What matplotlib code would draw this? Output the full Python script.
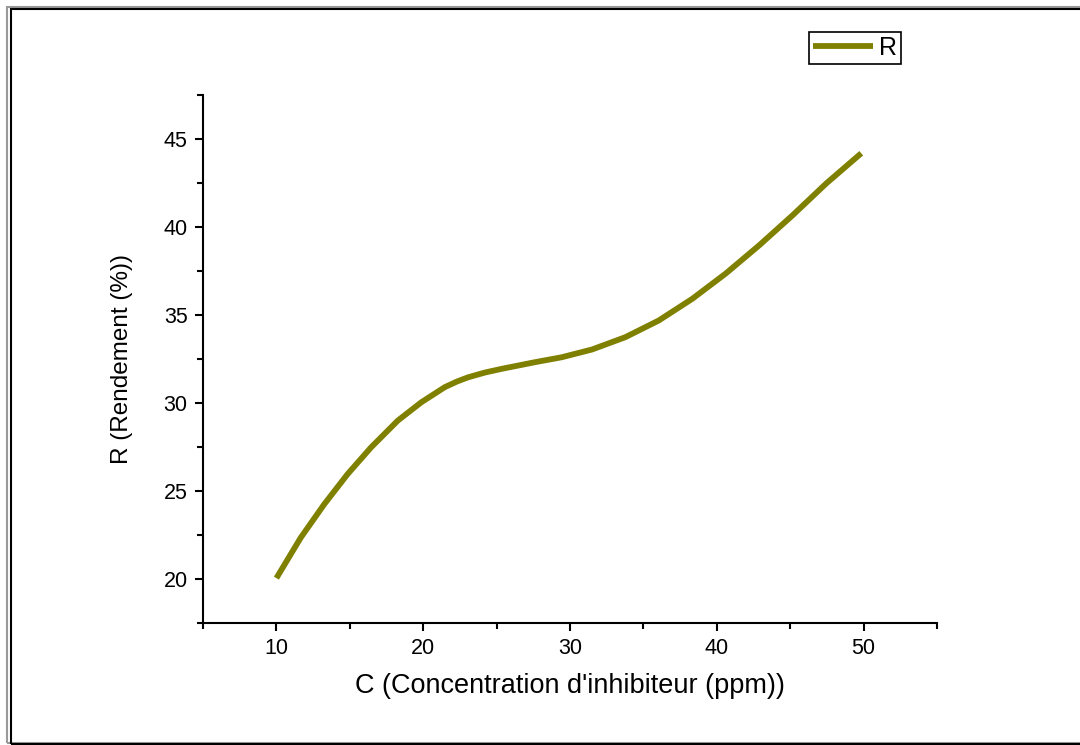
import matplotlib
matplotlib.use("Agg")
import matplotlib.pyplot as plt
from matplotlib.patches import Rectangle
from matplotlib.ticker import MultipleLocator

plt.rcParams['font.family'] = ['Liberation Sans', 'DejaVu Sans']

# values
conc = [10.0, 11.66, 13.26, 14.85, 16.45, 18.27, 19.87, 21.47, 22.3, 23.06, 24.2, 25.34,
        27.62, 29.44, 31.5, 33.77, 36.05, 38.33, 40.6, 42.89, 45.17, 47.45, 49.84]
rend = [20.05, 22.35, 24.25, 25.96, 27.48, 29.0, 30.04, 30.9, 31.22, 31.46, 31.73, 31.94,
        32.32, 32.6, 33.04, 33.74, 34.69, 35.92, 37.35, 38.96, 40.67, 42.47, 44.19]

fig = plt.figure(figsize=(10.8, 7.45), dpi=100)
ax = fig.add_axes([203 / 1080, 1 - 623 / 745, (937 - 203) / 1080, (623 - 95) / 745])

ax.plot(conc, rend, color='#808000', lw=4.2, solid_joinstyle='round',
        solid_capstyle='butt', label='R')

ax.set_xlim(5, 55)
ax.set_ylim(17.5, 47.5)
ax.xaxis.set_major_locator(MultipleLocator(10))
ax.xaxis.set_minor_locator(MultipleLocator(5))
ax.yaxis.set_major_locator(MultipleLocator(5))
ax.yaxis.set_minor_locator(MultipleLocator(2.5))

for s in ['top', 'right']:
    ax.spines[s].set_visible(False)
for s in ['left', 'bottom']:
    ax.spines[s].set_linewidth(1.5)

ax.tick_params(which='major', direction='out', length=6, width=1.5, labelsize=15.5, pad=5)
ax.tick_params(which='minor', direction='out', length=4, width=1.5)

ax.set_xlabel("C (Concentration d'inhibiteur (ppm))", fontsize=19.5, labelpad=10)
ax.set_ylabel("R (Rendement (%))", fontsize=17.5, labelpad=22)

leg = ax.legend(loc='upper left', bbox_to_anchor=(809 / 1080, 1 - 32 / 745),
                bbox_transform=fig.transFigure, fontsize=18, handlelength=2.4,
                handletextpad=0.25, borderpad=0.15, borderaxespad=0,
                fancybox=False, framealpha=1)
leg.get_frame().set_edgecolor('black')
leg.get_frame().set_linewidth(1.2)

# double frame around the picture
fig.patches.append(Rectangle((7 / 1080, 2 / 745), 1.2, 1 - 9 / 745, transform=fig.transFigure,
                             fill=False, edgecolor='#999999', lw=1.5))
fig.patches.append(Rectangle((10.5 / 1080, 1.5 / 745), 1.2, 1 - 10 / 745, transform=fig.transFigure,
                             fill=False, edgecolor='black', lw=1.5))

fig.savefig('out.png', dpi=100)
